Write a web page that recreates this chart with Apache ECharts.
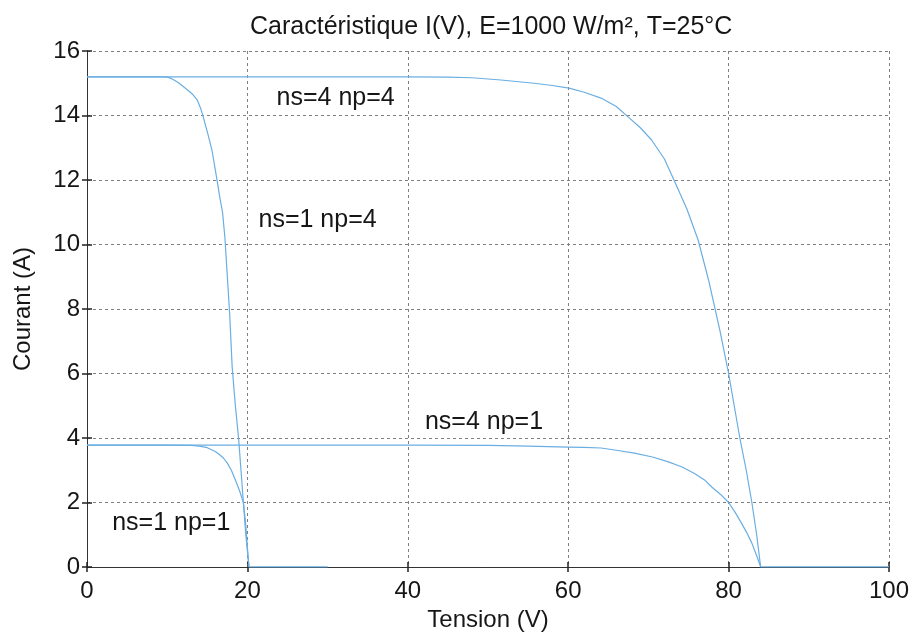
<!DOCTYPE html>
<html>
<head>
<meta charset="utf-8">
<title>Caractéristique I(V)</title>
<script src="https://cdn.jsdelivr.net/npm/echarts@6/dist/echarts.min.js"></script>
<style>
  html, body { margin: 0; padding: 0; background: #ffffff; }
  #chart { width: 913px; height: 638px; }
</style>
</head>
<body>
<div id="chart"></div>
<script>
// Courbes I(V) d'un module PV selon le groupement série (ns) / parallèle (np)
const xTicks = [0, 20, 40, 60, 80, 100];
const yTicks = [0, 2, 4, 6, 8, 10, 12, 14, 16];

// ns=1 np=1
const v_s1p1 = [0, 5, 10, 13, 14, 15, 16, 16.5, 17, 17.5, 18, 18.5, 19, 19.5, 19.8, 20.0, 20.2, 25, 30];
const i_s1p1 = [3.78, 3.78, 3.78, 3.77, 3.75, 3.70, 3.58, 3.49, 3.38, 3.22, 3.0, 2.70, 2.38, 2.0, 1.3, 0.6, 0, 0, 0];

// ns=1 np=4
const v_s1p4 = [0, 5, 9.5, 10, 10.5, 11, 11.5, 12, 12.5, 13.2, 13.75, 14.2, 14.5, 15.1, 15.6, 16.25, 16.6, 16.9, 17.2, 17.5, 17.8, 18.1, 18.5, 18.9, 19.2, 19.5, 19.8, 20.2, 25, 30];
const i_s1p4 = [15.2, 15.2, 15.2, 15.19, 15.15, 15.08, 15.0, 14.9, 14.8, 14.65, 14.48, 14.2, 13.95, 13.4, 12.9, 11.94, 11.4, 11.0, 10.2, 9.0, 7.8, 6.2, 5.0, 4.0, 3.0, 2.0, 1.0, 0, 0, 0];

// ns=4 np=4
const v_s4p4 = [0, 20, 40, 45, 48, 51.6, 55.75, 58, 60.1, 62, 64.1, 66, 67.5, 69, 70.4, 72, 73.3, 74.8, 76.2, 77.5, 78.9, 80, 80.7, 81.4, 82.2, 82.9, 83.5, 84, 90, 100];
const i_s4p4 = [15.2, 15.2, 15.2, 15.19, 15.17, 15.1, 15.0, 14.93, 14.85, 14.72, 14.54, 14.28, 13.95, 13.62, 13.24, 12.65, 11.94, 11.1, 10.14, 8.9, 7.35, 6.0, 5.0, 4.0, 3.0, 2.0, 1.0, 0, 0, 0];

// ns=4 np=1
const v_s4p1 = [0, 20, 40, 50, 55, 60, 62, 64.1, 66, 68.25, 70.5, 72.5, 74.2, 75.75, 77, 77.9, 79, 80, 80.8, 81.6, 82.3, 82.9, 83.5, 84, 90, 100];
const i_s4p1 = [3.78, 3.78, 3.78, 3.77, 3.75, 3.72, 3.71, 3.69, 3.62, 3.53, 3.41, 3.26, 3.1, 2.9, 2.7, 2.48, 2.25, 2.0, 1.7, 1.36, 1.05, 0.74, 0.35, 0, 0, 0];

// Étiquettes des courbes (texte, tension, courant)
const curveLabels = ['ns=4 np=4', 'ns=1 np=4', 'ns=4 np=1', 'ns=1 np=1'];
const labelV = [31.0, 28.75, 49.5, 10.5];
const labelI = [14.54, 10.76, 4.5, 1.36];

const FONT = "'Liberation Sans', Arial, Helvetica, sans-serif";
const LINE_COLOR = '#6aaee2';
const TEXT_COLOR = '#161616';

function pairs(v, i) { return v.map((x, k) => [x, i[k]]); }

function curve(name, v, i) {
  return {
    name: name,
    type: 'line',
    data: pairs(v, i),
    showSymbol: false,
    symbol: 'none',
    smooth: false,
    lineStyle: { color: LINE_COLOR, width: 1.2 },
    animation: false,
    z: 3
  };
}

const gridLine = { show: true, lineStyle: { color: '#808080', type: [3, 3], width: 1 } };
const boxLine = { show: true, lineStyle: { color: '#333333', width: 1 } };
const inTick = { show: true, inside: true, length: 5, lineStyle: { color: '#222222', width: 1.5 } };

const chart = echarts.init(document.getElementById('chart'), null, { renderer: 'canvas' });
chart.setOption({
  backgroundColor: '#ffffff',
  animation: false,
  title: {
    text: 'Caractéristique I(V), E=1000 W/m², T=25°C',
    left: 245,
    top: 10,
    textStyle: { fontFamily: FONT, fontSize: 25, fontWeight: 'normal', color: TEXT_COLOR }
  },
  grid: { left: 87, right: 24, top: 51, bottom: 71 },
  xAxis: [
    {
      type: 'value', min: xTicks[0], max: xTicks[xTicks.length - 1], interval: 20,
      position: 'bottom',
      name: 'Tension (V)', nameLocation: 'middle', nameGap: 33,
      nameTextStyle: { fontFamily: FONT, fontSize: 24, color: TEXT_COLOR },
      axisLine: boxLine, axisTick: inTick, splitLine: gridLine,
      axisLabel: { fontFamily: FONT, fontSize: 24, color: TEXT_COLOR, margin: 12 }
    },
    {
      type: 'value', min: xTicks[0], max: xTicks[xTicks.length - 1], interval: 20,
      position: 'top',
      axisLine: boxLine, axisTick: inTick, splitLine: { show: false },
      axisLabel: { show: false }
    }
  ],
  yAxis: [
    {
      type: 'value', min: yTicks[0], max: yTicks[yTicks.length - 1], interval: 2,
      position: 'left',
      name: 'Courant (A)', nameLocation: 'middle', nameGap: 52, nameRotate: 90,
      nameTextStyle: { fontFamily: FONT, fontSize: 24, color: TEXT_COLOR },
      axisLine: boxLine, axisTick: inTick, splitLine: gridLine,
      axisLabel: { fontFamily: FONT, fontSize: 24, color: TEXT_COLOR, margin: 7 }
    },
    {
      type: 'value', min: yTicks[0], max: yTicks[yTicks.length - 1], interval: 2,
      position: 'right',
      axisLine: boxLine, axisTick: inTick, splitLine: { show: false },
      axisLabel: { show: false }
    }
  ],
  series: [
    curve('ns=1 np=1', v_s1p1, i_s1p1),
    curve('ns=1 np=4', v_s1p4, i_s1p4),
    curve('ns=4 np=4', v_s4p4, i_s4p4),
    curve('ns=4 np=1', v_s4p1, i_s4p1),
    {
      name: 'étiquettes',
      type: 'scatter',
      symbolSize: 0,
      silent: true,
      animation: false,
      itemStyle: { opacity: 1 },
      data: curveLabels.map((t, k) => ({ name: t, value: [labelV[k], labelI[k]] })),
      label: {
        show: true,
        position: 'inside',
        formatter: p => p.name,
        fontFamily: FONT,
        fontSize: 25,
        color: TEXT_COLOR,
        opacity: 1
      },
      z: 5
    }
  ]
});
</script>
</body>
</html>
